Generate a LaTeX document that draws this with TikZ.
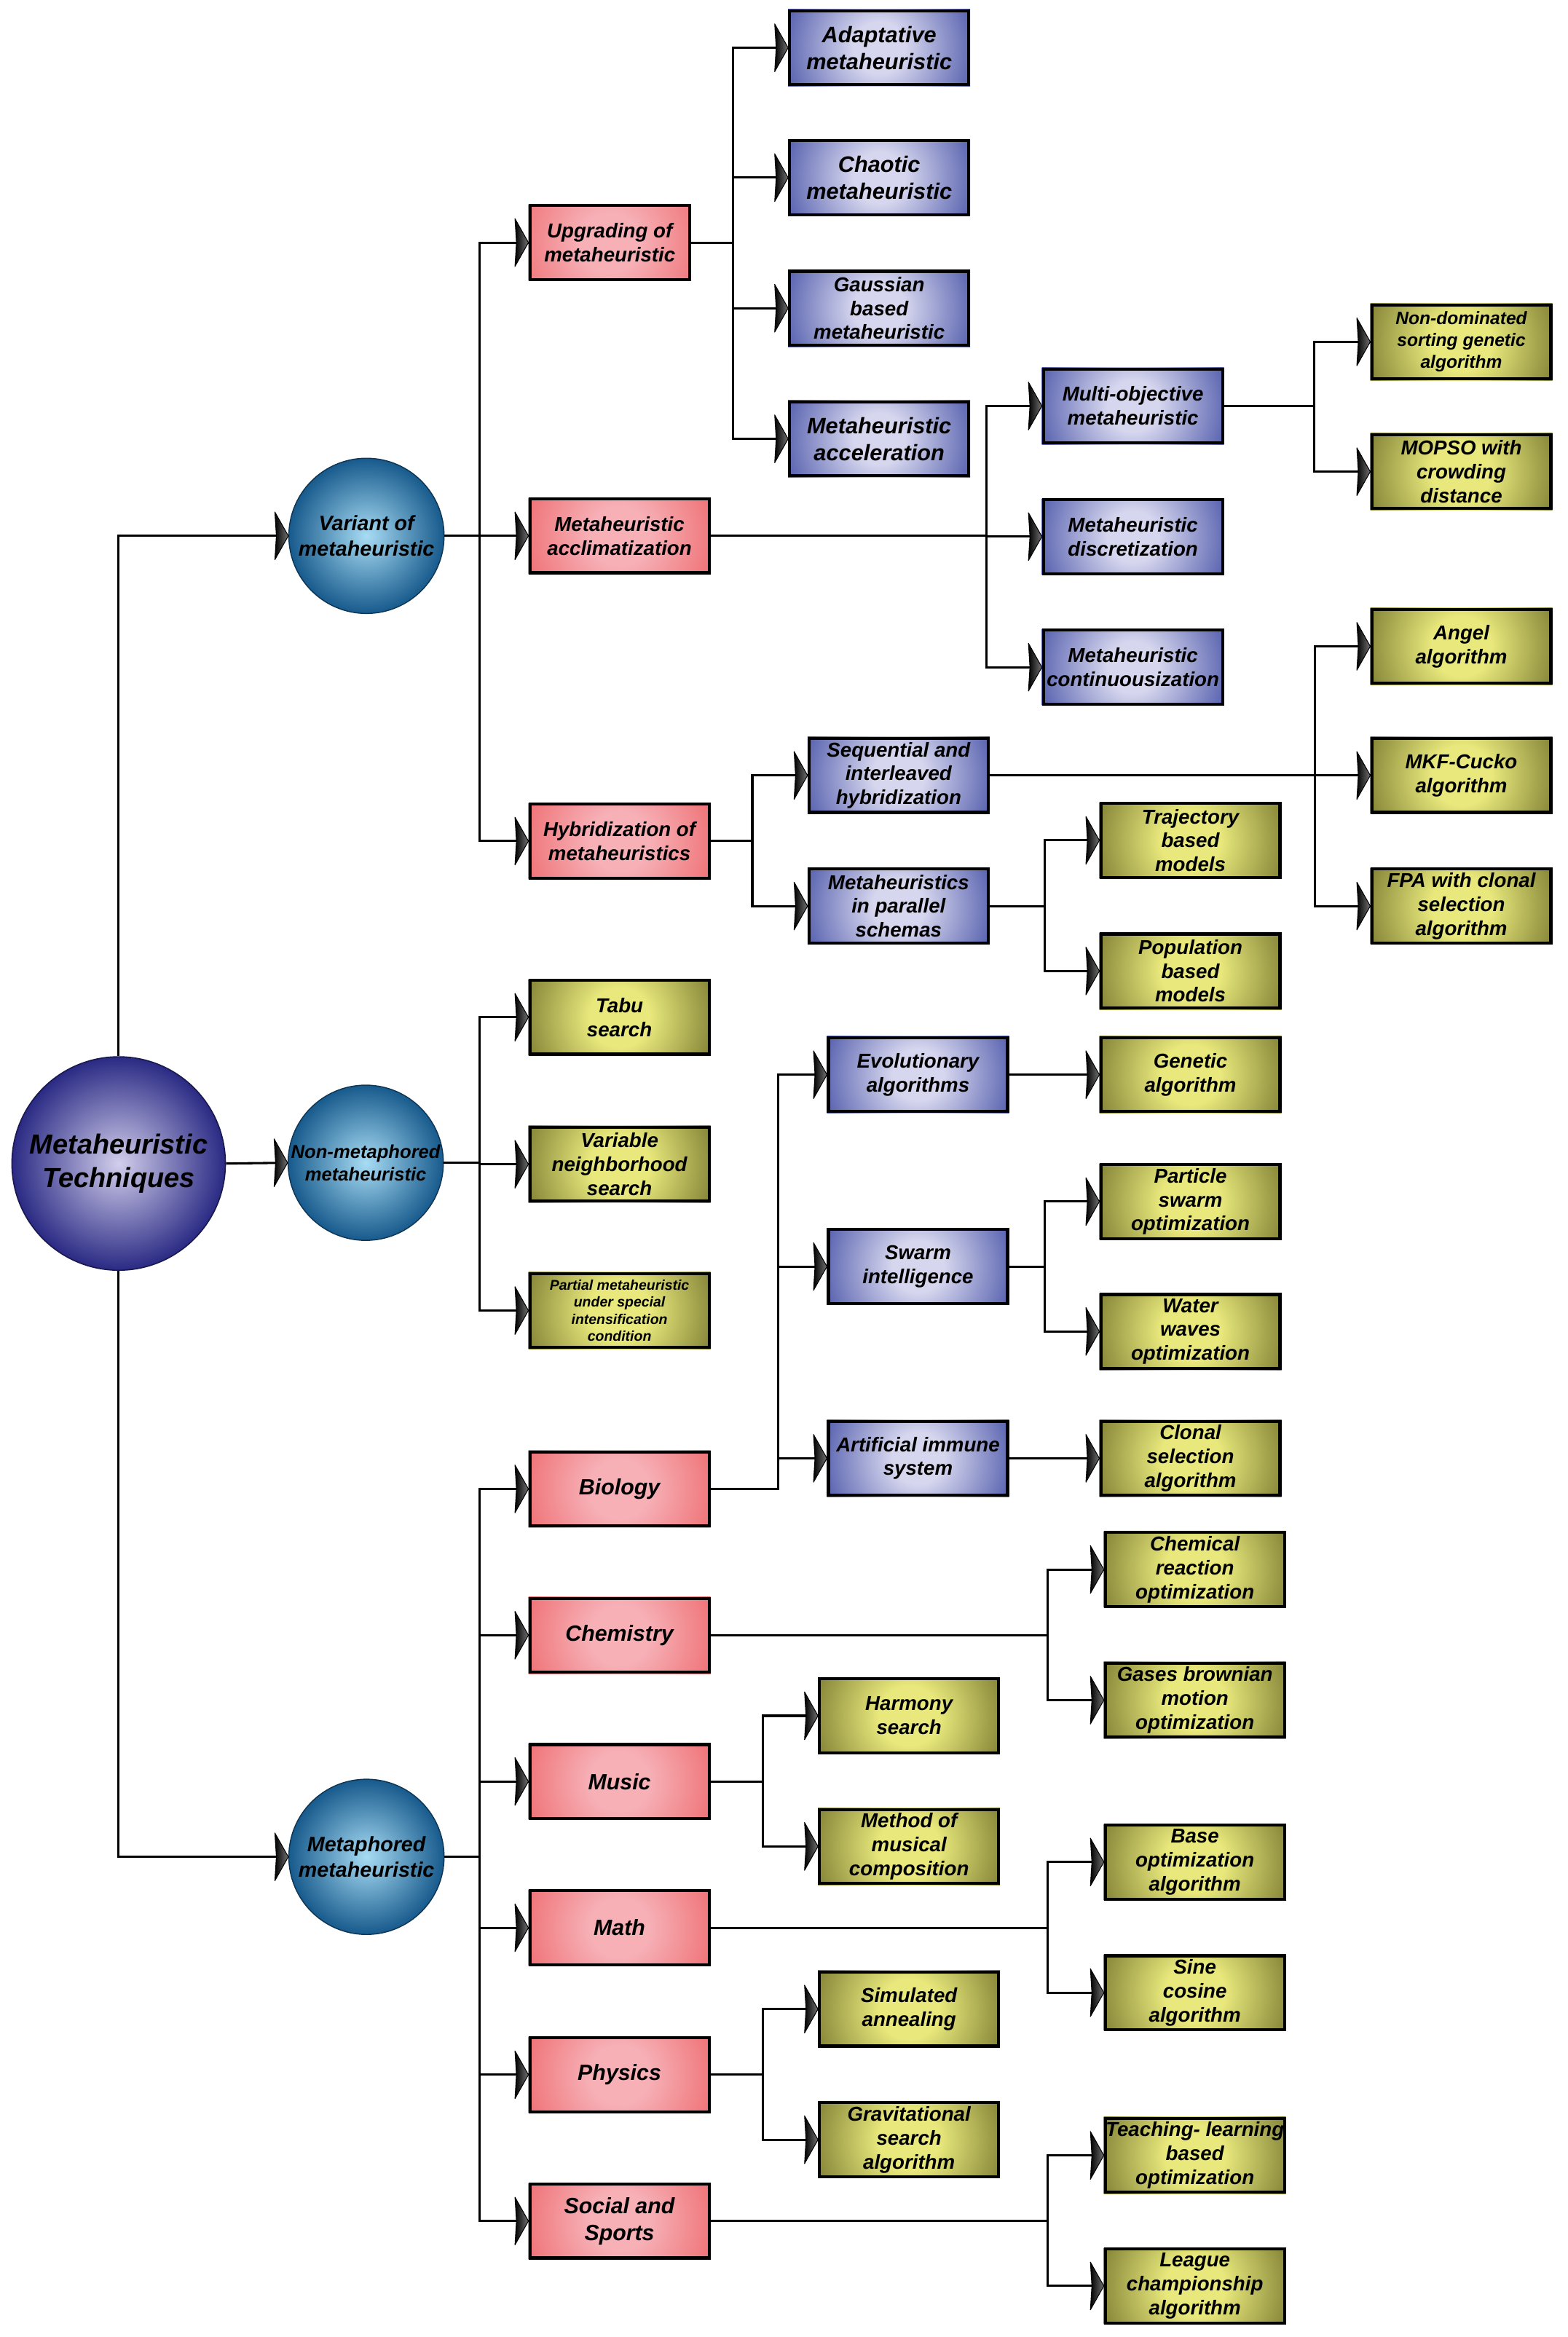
\documentclass[tikz,border=0pt]{standalone}
\usepackage{fontspec}
\setmainfont{Liberation Sans}
\usetikzlibrary{calc}
\definecolor{pinkO}{HTML}{EE6A6E}
\definecolor{pinkI}{HTML}{F6B0B6}
\definecolor{blueO}{HTML}{4652A6}
\definecolor{blueI}{HTML}{D6D6EE}
\definecolor{oliveO}{HTML}{76762E}
\definecolor{oliveI}{HTML}{E8E87C}
\definecolor{tealO}{HTML}{175A8C}
\definecolor{tealI}{HTML}{A8DCF4}
\definecolor{rootO}{HTML}{2A2A84}
\definecolor{rootI}{HTML}{D2CEEC}
\pgfdeclareradialshading{pinksh}{\pgfpoint{0bp}{0bp}}{color(0bp)=(pinkI); color(7bp)=(pinkI); color(25bp)=(pinkO); color(50bp)=(pinkO)}
\pgfdeclareradialshading{bluesh}{\pgfpoint{0bp}{0bp}}{color(0bp)=(blueI); color(6bp)=(blueI); color(25bp)=(blueO); color(50bp)=(blueO)}
\pgfdeclareradialshading{olivesh}{\pgfpoint{0bp}{0bp}}{color(0bp)=(oliveI); color(7bp)=(oliveI); color(25bp)=(oliveO); color(50bp)=(oliveO)}
\pgfdeclarelayer{background}
\pgfsetlayers{background,main}
\tikzset{
  box/.style={draw=black, line width=2pt, minimum width=120pt, minimum height=49.5pt,
    inner sep=0pt, align=center, font=\bfseries\itshape\fontsize{13.5}{16}\selectfont},
  pinkbox/.style={box},
  bluebox/.style={box},
  olivebox/.style={box},
  bigtext/.style={font=\bfseries\itshape\fontsize{14.8}{18}\selectfont},
  toptext/.style={font=\bfseries\itshape\fontsize{15}{18}\selectfont},
  ball/.style={circle, draw=tealO!60!black, line width=0.7pt, inner sep=0pt, minimum size=104pt,
    align=center, inner color=tealI, outer color=tealO, font=\bfseries\itshape\fontsize{14}{17}\selectfont},
  conn/.style={draw=black, line width=1.5pt},
  arrhead/.pic={\shade[left color=black, right color=black!55, draw=black, line width=0.5pt, line join=round]
     (0,0) -- (-9,-16) -- (-8,0) -- (-9,16) -- cycle;}
}
\newcommand{\tobox}[3]{\draw[conn] (#1.east) -- (#2 |- #1.east) |- (#3.west); \pic at (#3.west) {arrhead};}
\newcommand{\direct}[2]{\draw[conn] (#1.east) -- (#2.west); \pic at (#2.west) {arrhead};}
\newcommand{\boxshade}[3]{%
  \begin{pgfonlayer}{background}
    \fill[#3] (#1.south west) rectangle (#1.north east);
    \begin{scope}
      \clip (#1.south west) rectangle (#1.north east);
      \shade[shading=#2] ($(#1.center)+(-72,-72)$) rectangle ($(#1.center)+(72,72)$);
    \end{scope}
  \end{pgfonlayer}}
\begin{document}
\begin{tikzpicture}[x=1pt, y=-1pt]
\begin{pgfonlayer}{background}
\fill[white] (0,0) rectangle (1050,1565.7);
\end{pgfonlayer}
\useasboundingbox (0,0) rectangle (1050,1565.7);

% ---- bus coordinates
\coordinate (bL1) at (321.5,0);
\coordinate (bUpg) at (491,0);
\coordinate (bAcc) at (661,0);
\coordinate (bMul) at (880.5,0);
\coordinate (bHyb) at (504,0);
\coordinate (bSeq) at (881,0);
\coordinate (bPar) at (700,0);
\coordinate (bBio) at (521.5,0);
\coordinate (bSw) at (700,0);
\coordinate (bChem) at (702,0);
\coordinate (bMus) at (511,0);
\coordinate (bMath) at (702,0);
\coordinate (bPhys) at (511,0);
\coordinate (bSoc) at (702,0);

% ---- root and level 1
\node[circle, draw=rootO!60!black, line width=0.8pt, inner sep=0pt, minimum size=143pt, align=center,
  inner color=rootI, outer color=rootO, font=\bfseries\itshape\fontsize{18.5}{22}\selectfont]
  (root) at (79.5,779.5) {Metaheuristic\\Techniques};
\node[ball] (variant) at (245.5,359) {Variant of\\metaheuristic};
\node[ball, font=\bfseries\itshape\fontsize{12.5}{15}\selectfont] (nonmeta) at (245,779) {Non-metaphored\\metaheuristic};
\node[ball] (metaph) at (245.5,1244) {Metaphored\\metaheuristic};

% ---- column A
\node[pinkbox, minimum width=107pt] (upg) at (408.5,162.5) {Upgrading of\\metaheuristic};
\node[pinkbox] (accl) at (415,359) {Metaheuristic\\acclimatization};
\node[pinkbox] (hyb) at (415,563.5) {Hybridization of\\metaheuristics};
\node[olivebox] (tabu) at (415,681.5) {Tabu\\search};
\node[olivebox] (vns) at (415,780) {Variable\\neighborhood\\search};
\node[olivebox, font=\bfseries\itshape\fontsize{9.5}{11.5}\selectfont] (partial) at (415,878) {Partial metaheuristic\\under special\\intensification\\condition};
\node[pinkbox, bigtext] (bio) at (415,997.5) {Biology};
\node[pinkbox, bigtext] (chem) at (415,1095.5) {Chemistry};
\node[pinkbox, bigtext] (music) at (415,1193.5) {Music};
\node[pinkbox, bigtext] (math) at (415,1291.5) {Math};
\node[pinkbox, bigtext] (phys) at (415,1390) {Physics};
\node[pinkbox, bigtext] (social) at (415,1488) {Social and\\Sports};

% ---- column B
\node[bluebox, toptext] (adapt) at (589,32) {Adaptative\\metaheuristic};
\node[bluebox, toptext] (chaotic) at (589,119) {Chaotic\\metaheuristic};
\node[bluebox] (gauss) at (589,206.5) {Gaussian\\based\\metaheuristic};
\node[bluebox, toptext] (accel) at (589,294) {Metaheuristic\\acceleration};

% ---- column C, D, E
\node[bluebox] (seq) at (602,519.5) {Sequential and\\interleaved\\hybridization};
\node[bluebox] (par) at (602,607) {Metaheuristics\\in parallel\\schemas};
\node[bluebox] (evo) at (615,720) {Evolutionary\\algorithms};
\node[bluebox] (swarm) at (615,848.5) {Swarm\\intelligence};
\node[bluebox] (ais) at (615,977) {Artificial immune\\system};
\node[olivebox] (harmony) at (609,1149.5) {Harmony\\search};
\node[olivebox] (method) at (609,1237) {Method of\\musical\\composition};
\node[olivebox] (simul) at (609,1346) {Simulated\\annealing};
\node[olivebox] (grav) at (609,1433.5) {Gravitational\\search\\algorithm};

% ---- column F, G, H
\node[bluebox] (multi) at (759,272) {Multi-objective\\metaheuristic};
\node[bluebox] (discret) at (759,359.5) {Metaheuristic\\discretization};
\node[bluebox] (cont) at (759,447) {Metaheuristic\\continuousization};
\node[olivebox] (traj) at (797.5,563) {Trajectory\\based\\models};
\node[olivebox] (pop) at (797.5,650.5) {Population\\based\\models};
\node[olivebox] (genetic) at (797.5,720) {Genetic\\algorithm};
\node[olivebox] (particle) at (797.5,805) {Particle\\swarm\\optimization};
\node[olivebox] (water) at (797.5,892) {Water\\waves\\optimization};
\node[olivebox] (clonal) at (797.5,977) {Clonal\\selection\\algorithm};
\node[olivebox] (chemical) at (800.5,1051.5) {Chemical\\reaction\\optimization};
\node[olivebox] (gases) at (800.5,1139) {Gases brownian\\motion\\optimization};
\node[olivebox] (base) at (800.5,1247.5) {Base\\optimization\\algorithm};
\node[olivebox] (sine) at (800.5,1335) {Sine\\cosine\\algorithm};
\node[olivebox] (teach) at (800.5,1444) {Teaching- learning\\based\\optimization};
\node[olivebox] (league) at (800.5,1531.5) {League\\championship\\algorithm};

% ---- column I
\node[olivebox, font=\bfseries\itshape\fontsize{12}{14.5}\selectfont] (nondom) at (979,229) {Non-dominated\\sorting genetic\\algorithm};
\node[olivebox] (mopso) at (979,316) {MOPSO with\\crowding\\distance};
\node[olivebox] (angel) at (979,433) {Angel\\algorithm};
\node[olivebox] (mkf) at (979,519.5) {MKF-Cucko\\algorithm};
\node[olivebox] (fpa) at (979,607) {FPA with clonal\\selection\\algorithm};

% ---- box fills (background layer)
\foreach \n in {upg,accl,hyb,bio,chem,music,math,phys,social} {\boxshade{\n}{pinksh}{pinkO}}
\foreach \n in {adapt,chaotic,gauss,accel,seq,par,evo,swarm,ais,multi,discret,cont} {\boxshade{\n}{bluesh}{blueO}}
\foreach \n in {tabu,vns,partial,harmony,method,simul,grav,traj,pop,genetic,particle,water,clonal,chemical,gases,base,sine,teach,league,nondom,mopso,angel,mkf,fpa} {\boxshade{\n}{olivesh}{oliveO}}

% ---- root connectors
\draw[conn] (root.north) |- (variant.west); \pic at (variant.west) {arrhead};
\direct{root}{nonmeta}
\draw[conn] (root.south) |- (metaph.west); \pic at (metaph.west) {arrhead};

% ---- level 1 -> 2
\tobox{variant}{bL1}{upg}
\tobox{variant}{bL1}{accl}
\tobox{variant}{bL1}{hyb}
\tobox{nonmeta}{bL1}{tabu}
\tobox{nonmeta}{bL1}{vns}
\tobox{nonmeta}{bL1}{partial}
\tobox{metaph}{bL1}{bio}
\tobox{metaph}{bL1}{chem}
\tobox{metaph}{bL1}{music}
\tobox{metaph}{bL1}{math}
\tobox{metaph}{bL1}{phys}
\tobox{metaph}{bL1}{social}

% ---- deeper levels
\tobox{upg}{bUpg}{adapt}
\tobox{upg}{bUpg}{chaotic}
\tobox{upg}{bUpg}{gauss}
\tobox{upg}{bUpg}{accel}
\tobox{accl}{bAcc}{multi}
\tobox{accl}{bAcc}{discret}
\tobox{accl}{bAcc}{cont}
\tobox{multi}{bMul}{nondom}
\tobox{multi}{bMul}{mopso}
\tobox{hyb}{bHyb}{seq}
\tobox{hyb}{bHyb}{par}
\tobox{seq}{bSeq}{angel}
\tobox{seq}{bSeq}{mkf}
\tobox{seq}{bSeq}{fpa}
\tobox{par}{bPar}{traj}
\tobox{par}{bPar}{pop}
\tobox{bio}{bBio}{evo}
\tobox{bio}{bBio}{swarm}
\tobox{bio}{bBio}{ais}
\direct{evo}{genetic}
\tobox{swarm}{bSw}{particle}
\tobox{swarm}{bSw}{water}
\direct{ais}{clonal}
\tobox{chem}{bChem}{chemical}
\tobox{chem}{bChem}{gases}
\tobox{music}{bMus}{harmony}
\tobox{music}{bMus}{method}
\tobox{math}{bMath}{base}
\tobox{math}{bMath}{sine}
\tobox{phys}{bPhys}{simul}
\tobox{phys}{bPhys}{grav}
\tobox{social}{bSoc}{teach}
\tobox{social}{bSoc}{league}
\end{tikzpicture}
\end{document}
